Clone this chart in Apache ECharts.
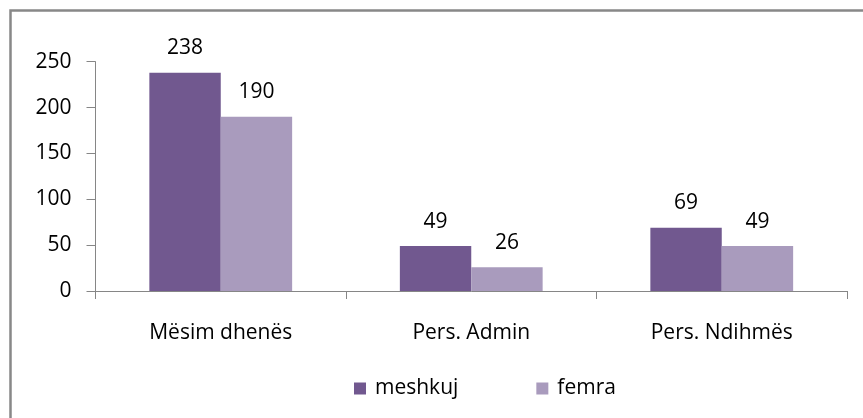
<!DOCTYPE html>
<html>
<head>
<meta charset="utf-8">
<script src="https://cdn.jsdelivr.net/npm/echarts@6/dist/echarts.min.js"></script>
<style>
  html, body { margin: 0; padding: 0; background: #fff; }
  #main { width: 863px; height: 418px; }
</style>
</head>
<body>
<div id="main"></div>
<script>
const categories = ["Mësim dhenës", "Pers. Admin", "Pers. Ndihmës"];
const seriesNames = ["meshkuj", "femra"];
const meshkuj = [238, 49, 69];
const femra = [190, 26, 49];
const colors = ["#71588F", "#A99BBD"];

const font = "Open Sans";
const fontSize = 21;
const myChart = echarts.init(document.getElementById("main"), null, { renderer: "canvas" });

const labelStyle = {
  show: true,
  position: "top",
  distance: 14,
  color: "#000",
  fontFamily: font,
  fontSize: fontSize,
};

const option = {
  animation: false,
  graphic: [
    {
      type: "rect",
      shape: { x: 10.5, y: 10.5, width: 900, height: 450 },
      style: { fill: "none", stroke: "#888", lineWidth: 2.5 },
      silent: true,
    },
  ],
  grid: { left: 95.5, right: 16, top: 61.7, bottom: 127 },
  legend: {
    left: 354,
    top: 378,
    padding: 0,
    itemWidth: 12,
    itemHeight: 12,
    itemGap: 78,
    icon: "rect",
    textStyle: { fontFamily: font, fontSize: fontSize, color: "#000", padding: [0, 0, 0, 4] },
    data: seriesNames,
  },
  xAxis: {
    type: "category",
    data: categories,
    axisLine: { lineStyle: { color: "#868686", width: 1 } },
    axisTick: { show: true, length: 8, lineStyle: { color: "#868686" } },
    axisLabel: { margin: 32, color: "#000", fontFamily: font, fontSize: fontSize },
  },
  yAxis: {
    type: "value",
    min: 0,
    max: 250,
    interval: 50,
    axisLine: { show: true, lineStyle: { color: "#868686", width: 1 } },
    axisTick: { show: true, length: 9, lineStyle: { color: "#868686" } },
    axisLabel: { margin: 24, color: "#000", fontFamily: font, fontSize: fontSize },
    splitLine: { show: false },
  },
  series: [
    {
      name: seriesNames[0],
      type: "bar",
      data: meshkuj,
      barGap: "0%",
      barCategoryGap: "43%",
      itemStyle: { color: colors[0] },
      label: labelStyle,
    },
    {
      name: seriesNames[1],
      type: "bar",
      data: femra,
      itemStyle: { color: colors[1] },
      label: labelStyle,
    },
  ],
};

option && myChart.setOption(option);
</script>
</body>
</html>
